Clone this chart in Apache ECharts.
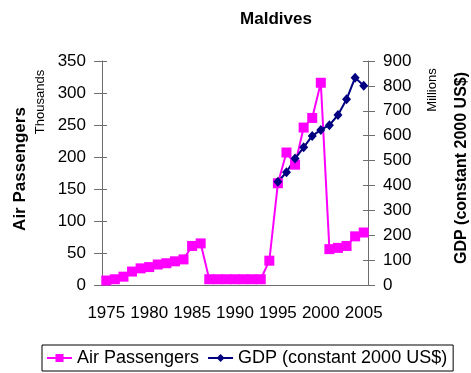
<!DOCTYPE html>
<html>
<head>
<meta charset="utf-8">
<script src="https://cdn.jsdelivr.net/npm/echarts@6/dist/echarts.min.js"></script>
<style>
html,body{margin:0;padding:0;background:#fff;}
#c{width:471px;height:373px;}
</style>
</head>
<body>
<div id="c"></div>
<script>
var years = [];
for (var y = 1975; y <= 2005; y++) years.push(String(y));
var airPassengers = [7, 9, 13, 21, 26, 28, 32, 34, 37, 40, 61, 65, 9, 9, 9, 9, 9, 9, 9, 38, 159, 207, 188, 246, 261, 316, 56, 58, 61, 76, 82];
var gdp = [null, null, null, null, null, null, null, null, null, null, null, null, null, null, null, null, null, null, null, null, 415, 453, 508, 553, 599, 623, 642, 683, 746, 833, 801];
var leftTicks = [0, 50, 100, 150, 200, 250, 300, 350];
var rightTicks = [0, 100, 200, 300, 400, 500, 600, 700, 800, 900];

var FONT = 'Liberation Sans, Arial, sans-serif';
var chart = echarts.init(document.getElementById('c'), null, {renderer: 'canvas'});
var axisLineStyle = {color: '#6e6e6e', width: 1};
function fmt(list) { return function (v) { return list.indexOf(v) >= 0 ? String(v) : ''; }; }
chart.setOption({
  animation: false,
  backgroundColor: '#fff',
  title: {
    text: 'Maldives', left: 271, top: 6, textAlign: 'center',
    textStyle: {fontFamily: FONT, fontSize: 17, fontWeight: 'bold', color: '#000'}
  },
  grid: {left: 102, right: 103, top: 61, bottom: 88, containLabel: false},
  legend: {
    bottom: 2, left: 42,
    itemWidth: 25, itemHeight: 10, itemGap: 8,
    borderColor: '#000', borderWidth: 1, padding: [4, 6, 4, 4],
    textStyle: {fontFamily: FONT, fontSize: 18, color: '#000'},
    data: ['Air Passengers', 'GDP (constant 2000 US$)']
  },
  xAxis: {
    type: 'category', data: years, boundaryGap: true,
    axisLine: {lineStyle: axisLineStyle},
    axisTick: {interval: 0, length: 6, lineStyle: axisLineStyle},
    axisLabel: {interval: 4, fontFamily: FONT, fontSize: 17, color: '#000', margin: 20}
  },
  yAxis: [{
    type: 'value', min: 0, max: 350, interval: 50, position: 'left',
    axisLine: {show: true, lineStyle: axisLineStyle},
    axisTick: {show: true, length: 8, lineStyle: axisLineStyle},
    splitLine: {show: false},
    axisLabel: {fontFamily: FONT, fontSize: 17, color: '#000', margin: 16, formatter: fmt(leftTicks)}
  }, {
    type: 'value', min: 0, max: 900, interval: 100, position: 'right',
    axisLine: {show: true, lineStyle: axisLineStyle},
    axisTick: {show: true, length: 7, lineStyle: axisLineStyle},
    splitLine: {show: false},
    axisLabel: {fontFamily: FONT, fontSize: 17, color: '#000', margin: 15, formatter: fmt(rightTicks)}
  }, {
    type: 'value', min: 0, max: 350, interval: 50, position: 'left',
    axisLine: {show: false},
    axisTick: {show: true, inside: true, length: 5, lineStyle: axisLineStyle},
    splitLine: {show: false}, axisLabel: {show: false}
  }, {
    type: 'value', min: 0, max: 900, interval: 100, position: 'right',
    axisLine: {show: false},
    axisTick: {show: true, inside: true, length: 5, lineStyle: axisLineStyle},
    splitLine: {show: false}, axisLabel: {show: false}
  }],
  graphic: [
    {type: 'text', rotation: Math.PI / 2, x: 20, y: 169, style: {text: 'Air Passengers', font: 'bold 17px ' + FONT, fill: '#000', textAlign: 'center', textVerticalAlign: 'middle'}},
    {type: 'text', rotation: Math.PI / 2, x: 40, y: 102, style: {text: 'Thousands', font: '13px ' + FONT, fill: '#000', textAlign: 'center', textVerticalAlign: 'middle'}},
    {type: 'text', rotation: Math.PI / 2, x: 432, y: 90, style: {text: 'Millions', font: '13px ' + FONT, fill: '#000', textAlign: 'center', textVerticalAlign: 'middle'}},
    {type: 'text', rotation: Math.PI / 2, x: 462, y: 168, style: {text: 'GDP (constant 2000 US$)', font: 'bold 16px ' + FONT, fill: '#000', textAlign: 'center', textVerticalAlign: 'middle'}}
  ],
  series: [{
    name: 'Air Passengers', type: 'line', yAxisIndex: 0, data: airPassengers,
    symbol: 'rect', symbolSize: 10, showAllSymbol: true,
    lineStyle: {color: '#ff00ff', width: 2},
    itemStyle: {color: '#ff00ff'}
  }, {
    name: 'GDP (constant 2000 US$)', type: 'line', yAxisIndex: 1, data: gdp,
    symbol: 'diamond', symbolSize: [9, 10], showAllSymbol: true,
    lineStyle: {color: '#000080', width: 2},
    itemStyle: {color: '#000080'}
  }]
});
</script>
</body>
</html>
